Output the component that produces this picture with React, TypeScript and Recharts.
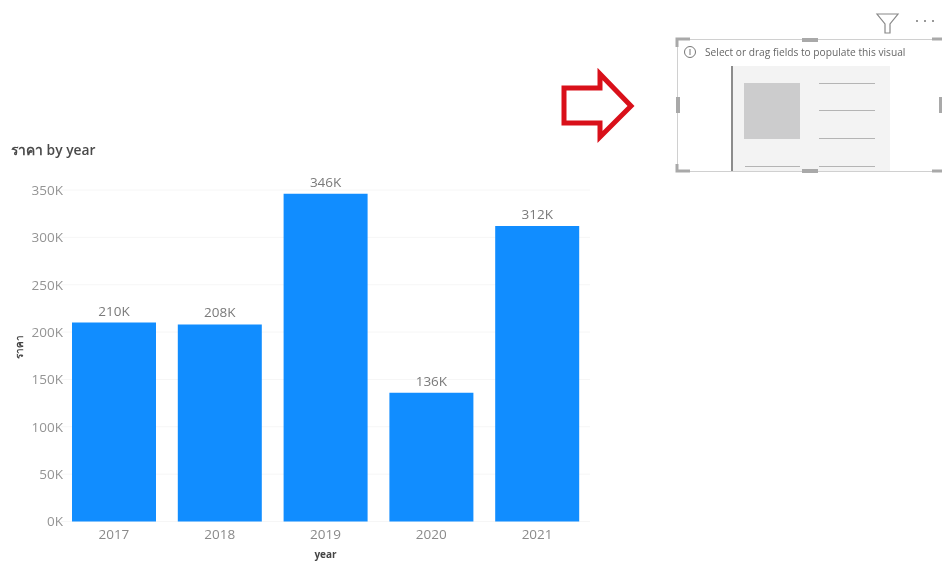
import { Bar, BarChart, CartesianGrid, LabelList, XAxis, YAxis } from "recharts";

const years = ["2017", "2018", "2019", "2020", "2021"];
const prices = [210000, 208000, 346000, 136000, 312000];
const yTicks = [0, 50000, 100000, 150000, 200000, 250000, 300000, 350000];

const rows = years.map((year, i) => ({ year, price: prices[i] }));

const FONT = '"Open Sans", "Noto Sans", "DejaVu Sans", sans-serif';

const formatK = (v: number) => `${Math.round(v / 1000)}K`;

function Overlay() {
  const grip = "#a9a9a9";
  const rule = "#b4b4b4";
  return (
    <svg
      width={942}
      height={561}
      style={{ position: "absolute", left: 0, top: 0, pointerEvents: "none" }}
    >
      <text x={11} y={155} fontSize={13.8} fontWeight={600} fill="#4a4a4a" fontFamily={FONT}>
        ราคา by year
      </text>

      {/* arrow */}
      <path
        d="M564 88 H600 V74 L631 106 L600 137 V123 H564 Z"
        fill="#fff"
        stroke="#d9101a"
        strokeWidth={5}
        strokeLinejoin="miter"
      />

      {/* empty visual placeholder */}
      <rect x={677.5} y={39.5} width={265} height={132} fill="#fff" stroke="#d0d0d0" />
      <rect x={733} y={66} width={157} height={105} fill="#f3f3f3" />
      <rect x={731} y={66} width={2} height={105} fill="#8c8c8c" />
      <rect x={744} y={83} width={56} height={56} fill="#cccccd" />
      <rect x={819} y={83} width={56} height={1} fill={rule} />
      <rect x={819} y={110} width={56} height={1} fill={rule} />
      <rect x={819} y={138} width={56} height={1} fill={rule} />
      <rect x={745} y={166} width={55} height={1} fill={rule} />
      <rect x={819} y={166} width={56} height={1} fill={rule} />

      <circle cx={690} cy={52} r={5.5} fill="none" stroke="#777" />
      <rect x={689.5} y={49} width={1} height={6} fill="#777" />
      <text x={705} y={56} fontSize={10.2} fill="#666" fontFamily={FONT}>
        Select or drag fields to populate this visual
      </text>

      {/* selection handles */}
      <path d="M677 47 V39 H690" fill="none" stroke={grip} strokeWidth={3} />
      <path d="M677 164 V171 H690" fill="none" stroke={grip} strokeWidth={3} />
      <path d="M942 39 H932" fill="none" stroke={grip} strokeWidth={3} />
      <path d="M942 171 H932" fill="none" stroke={grip} strokeWidth={3} />
      <rect x={802} y={38} width={16} height={4} fill={grip} />
      <rect x={802} y={169} width={16} height={4} fill={grip} />
      <rect x={676} y={97} width={4} height={16} fill={grip} />
      <rect x={939} y={97} width={3} height={16} fill={grip} />

      {/* filter icon and more dots */}
      <path
        d="M877 14 H898 L890 24 V33 H885 V24 Z"
        fill="none"
        stroke="#888"
        strokeWidth={1.2}
      />
      <circle cx={917} cy={21} r={1} fill="#777" />
      <circle cx={925} cy={21} r={1} fill="#777" />
      <circle cx={933} cy={21} r={1} fill="#777" />
    </svg>
  );
}

export default function App() {
  return (
    <div
      style={{
        position: "absolute",
        left: 0,
        top: 0,
        width: 942,
        height: 561,
        overflow: "hidden",
        filter: "blur(0.45px)",
      }}
    >
      <BarChart
        width={942}
        height={561}
        data={rows}
        margin={{ top: 190, right: 352, bottom: 0, left: 0 }}
        barSize={84}
        style={{ fontFamily: FONT }}
      >
        <CartesianGrid vertical={false} stroke="#f6f6f6" />
        <XAxis
          dataKey="year"
          height={39.5}
          axisLine={false}
          tickLine={false}
          tick={{ fontSize: 13.5, fill: "#8a8a8a" }}
          tickMargin={2}
          label={{
            value: "year",
            position: "insideBottom",
            offset: 3,
            fontSize: 10,
            fontWeight: 700,
            fill: "#444",
          }}
        />
        <YAxis
          width={61}
          domain={[0, 350000]}
          ticks={yTicks}
          interval={0}
          axisLine={false}
          tickLine={false}
          tickSize={0}
          tickFormatter={formatK}
          tick={{ fontSize: 13.5, fill: "#949494" }}
          tickMargin={-2}
          label={{
            value: "ราคา",
            angle: -90,
            position: "insideLeft",
            offset: 19,
            dy: 3,
            fontSize: 10,
            fontWeight: 600,
            fill: "#444",
          }}
        />
        <Bar dataKey="price" fill="#118dff" isAnimationActive={false}>
          <LabelList
            dataKey="price"
            position="top"
            offset={7}
            formatter={formatK}
            style={{ fontSize: 13.5, fill: "#7a7a7a" }}
          />
        </Bar>
      </BarChart>
      <Overlay />
    </div>
  );
}
